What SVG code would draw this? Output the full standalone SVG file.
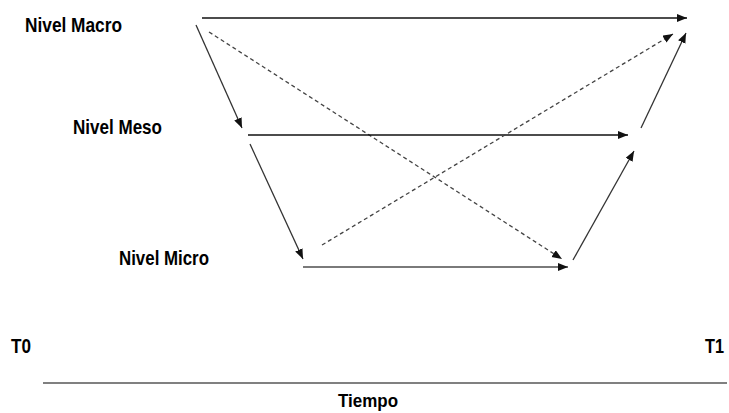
<svg xmlns="http://www.w3.org/2000/svg" width="729" height="413" viewBox="0 0 729 413">
<style>
.lbl{font-family:"Liberation Sans",Arial,sans-serif;font-weight:bold;fill:#000}
.ln{fill:none;stroke-width:1.3}
.solid{stroke:#111}
.dk{stroke:#333}
.gr{stroke:#7a7a7a;stroke-width:2}
.dash{stroke:#444;stroke-dasharray:4 3}
</style>
<defs>
<marker id="ah" markerUnits="userSpaceOnUse" markerWidth="11" markerHeight="9" refX="10" refY="4" orient="auto">
<path d="M0,0 L10,4 L0,8 z" fill="#111"/>
</marker>
</defs>
<rect width="729" height="413" fill="#fff"/>
<g id="nivel-macro"><text class="lbl" x="25" y="32" font-size="21" textLength="97" lengthAdjust="spacingAndGlyphs">Nivel Macro</text></g>
<g id="nivel-meso"><text class="lbl" x="73" y="134" font-size="21" textLength="89" lengthAdjust="spacingAndGlyphs">Nivel Meso</text></g>
<g id="nivel-micro"><text class="lbl" x="119" y="265" font-size="21" textLength="90" lengthAdjust="spacingAndGlyphs">Nivel Micro</text></g>
<g id="t0"><text class="lbl" x="11" y="353" font-size="21" textLength="20" lengthAdjust="spacingAndGlyphs">T0</text></g>
<g id="t1"><text class="lbl" x="705" y="353" font-size="21" textLength="19" lengthAdjust="spacingAndGlyphs">T1</text></g>
<g id="tiempo"><text class="lbl" x="338" y="407" font-size="18" textLength="60" lengthAdjust="spacingAndGlyphs">Tiempo</text></g>
<g id="connectors">
<line class="ln solid" x1="202" y1="18" x2="687" y2="18" marker-end="url(#ah)"/>
<line class="ln dk" x1="196" y1="25" x2="242" y2="128" marker-end="url(#ah)"/>
<line class="ln dash" x1="209" y1="32" x2="562" y2="259" marker-end="url(#ah)"/>
<line class="ln solid" x1="248" y1="135" x2="628" y2="135" marker-end="url(#ah)"/>
<line class="ln dk" x1="250" y1="144" x2="303" y2="259" marker-end="url(#ah)"/>
<line class="ln gr" x1="303" y1="267" x2="568" y2="267" marker-end="url(#ah)"/>
<line class="ln dash" x1="322" y1="245" x2="673" y2="34" marker-end="url(#ah)"/>
<line class="ln dk" x1="573" y1="260" x2="634" y2="151" marker-end="url(#ah)"/>
<line class="ln dk" x1="641" y1="128" x2="686" y2="33" marker-end="url(#ah)"/>
<line x1="43" y1="383" x2="727" y2="383" stroke="#808080" stroke-width="2"/>
</g>
</svg>
